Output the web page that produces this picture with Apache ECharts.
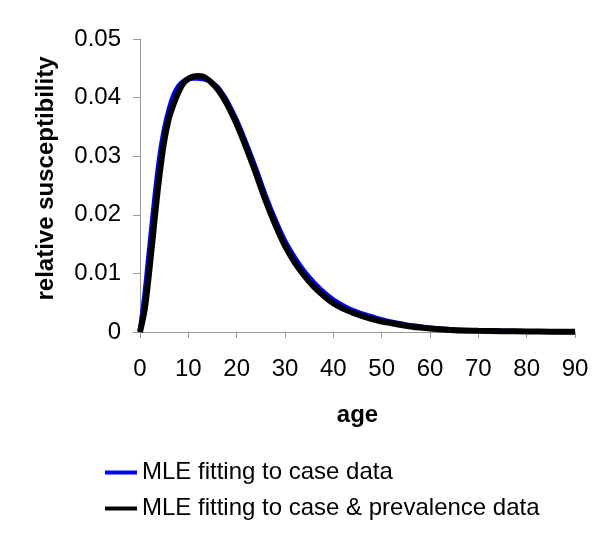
<!DOCTYPE html>
<html>
<head>
<meta charset="utf-8">
<script src="https://cdn.jsdelivr.net/npm/echarts@6/dist/echarts.min.js"></script>
<style>html,body{margin:0;padding:0;background:#fff}#c{width:600px;height:538px}</style>
</head>
<body>
<div id="c"></div>
<script>
var ages = [0,1,2,3,4,5,6,7,8,9,10,11,12,13,14,15,16,17,18,20,22,24,26,28,30,32,34,36,38,40,42,44,46,48,50,52,54,56,58,60,65,70,75,80,85,90];
var caseData = [0,0.0065,0.0145,0.0225,0.0295,0.0345,0.038,0.0405,0.042,0.0428,0.0432,0.0433,0.0433,0.0432,0.043,0.0425,0.0418,0.0407,0.0394,0.0361,0.0321,0.0278,0.0232,0.0191,0.0155,0.0127,0.0103,0.0084,0.0068,0.0055,0.0045,0.0037,0.0031,0.0026,0.0021,0.0017,0.0014,0.0011,0.0009,0.0007,0.0004,0.00025,0.00016,0.0001,0.00007,0.00004];
var casePrevData = [0,0.004,0.011,0.019,0.0265,0.0325,0.0365,0.039,0.041,0.0425,0.0432,0.0436,0.0437,0.0436,0.0431,0.0424,0.0415,0.0403,0.0389,0.0355,0.0314,0.0270,0.0224,0.0183,0.0147,0.0119,0.0096,0.0077,0.0062,0.0049,0.0040,0.0033,0.0027,0.0022,0.0018,0.0015,0.0012,0.00095,0.00075,0.0006,0.0003,0.0002,0.00013,0.0001,0.00006,0.00003];
var seriesNames = ['MLE fitting to case data','MLE fitting to case & prevalence data'];
var xTitle = 'age';
var yTitle = 'relative susceptibility';

function pairs(xs, ys){ return xs.map(function(x,i){ return [x, ys[i]]; }); }
var font = '"Liberation Sans", Arial, Helvetica, sans-serif';
var chart = echarts.init(document.getElementById('c'));
chart.setOption({
  animation: false,
  backgroundColor: '#fff',
  textStyle: { fontFamily: font },
  grid: { left: 140, right: 25, top: 39, bottom: 206, containLabel: false },
  xAxis: {
    type: 'value', min: 0, max: 90, interval: 10,
    name: xTitle, nameLocation: 'middle', nameGap: 71,
    nameTextStyle: { fontSize: 24, fontWeight: 'bold', color: '#000', fontFamily: font },
    axisLine: { lineStyle: { color: '#999', width: 1 } },
    axisTick: { show: true, length: 6, inside: false, lineStyle: { color: '#999' } },
    splitLine: { show: false },
    axisLabel: { fontSize: 24, color: '#000', margin: 25, fontFamily: font }
  },
  yAxis: {
    type: 'value', min: 0, max: 0.05, interval: 0.01,
    name: yTitle, nameLocation: 'middle', nameRotate: 90, nameGap: 82,
    nameTextStyle: { fontSize: 24, fontWeight: 'bold', color: '#000', fontFamily: font, padding: [0, 0, 0, 14] },
    axisLine: { show: true, lineStyle: { color: '#999', width: 1 } },
    axisTick: { show: true, length: 7, inside: false, lineStyle: { color: '#999' } },
    splitLine: { show: false },
    axisLabel: { fontSize: 24, color: '#000', margin: 19, fontFamily: font,
      formatter: function(v){ return v === 0 ? '0' : v.toFixed(2); } }
  },
  legend: {
    orient: 'vertical', left: 100, top: 454,
    icon: 'rect', itemWidth: 32, itemHeight: 4, itemGap: 9,
    textStyle: { fontSize: 24, color: '#000', lineHeight: 27, fontFamily: font },
    data: seriesNames
  },
  series: [
    { name: seriesNames[0], type: 'line', smooth: 0.35, showSymbol: false, z: 2,
      data: pairs(ages, caseData), color: '#0000ff', lineStyle: { color: '#0000ff', width: 5 } },
    { name: seriesNames[1], type: 'line', smooth: 0.35, showSymbol: false, z: 3,
      data: pairs(ages, casePrevData), color: '#000', lineStyle: { color: '#000', width: 6 } }
  ]
});
</script>
</body>
</html>
